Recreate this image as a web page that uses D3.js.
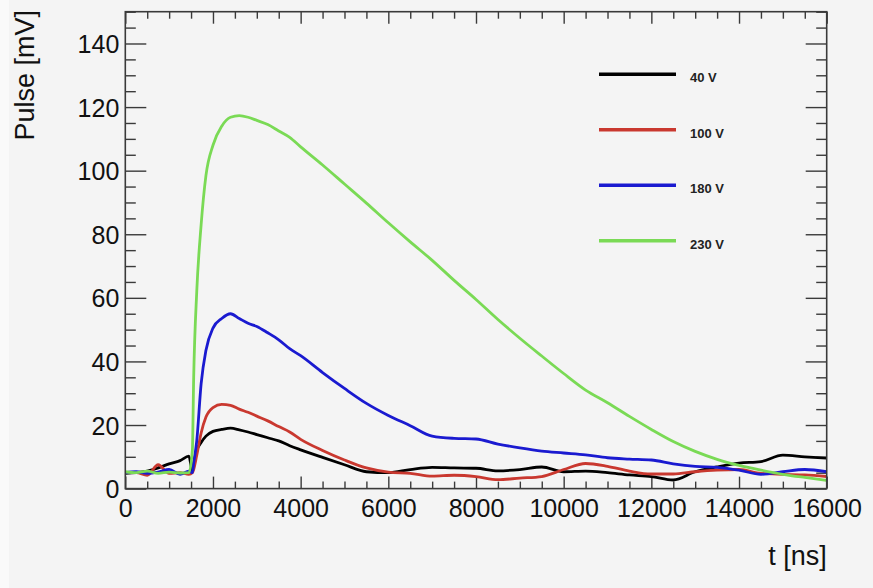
<!DOCTYPE html>
<html>
<head>
<meta charset="utf-8">
<script src="https://cdn.jsdelivr.net/npm/d3@7"></script>
<style>
  html, body { margin: 0; padding: 0; background: #f4f4f4; }
  svg { display: block; font-family: "Liberation Sans", Arial, Helvetica, sans-serif; }
</style>
</head>
<body>
<svg id="chart" width="873" height="588"></svg>
<script>
// sample times (ns) shared by every trace
const timeNs = [0, 250, 500, 750, 1000, 1250, 1450, 1530, 1560, 1630, 1730, 1840, 2000, 2200, 2400, 2600, 2800, 3000,
  3250, 3500, 3750, 4000, 4500, 5000, 5500, 6000, 6500, 7000, 7500, 8000, 8500, 9000, 9500, 10000,
  10500, 11000, 11500, 12000, 12500, 13000, 13500, 14000, 14500, 15000, 15500, 16000];

// pulse height (mV)
const pulse40V = [4.8, 5.0, 5.5, 6.5, 7.8, 8.8, 10.2, 5.5, 8.0, 12.0, 14.5, 16.5, 18.0, 18.6, 19.0, 18.5, 17.8, 17.0,
  16.0, 15.0, 13.5, 12.2, 9.8, 7.5, 5.3, 5.0, 6.0, 6.7, 6.5, 6.4, 5.6, 6.0, 6.8, 5.3,
  5.5, 5.0, 4.3, 3.8, 2.7, 5.3, 6.8, 8.0, 8.5, 10.5, 10.0, 9.6];
const pulse100V = [5.0, 5.0, 4.2, 7.5, 4.8, 5.0, 4.5, 5.0, 6.0, 10.5, 17.5, 22.5, 25.5, 26.5, 26.2, 25.0, 24.0, 22.8,
  21.3, 19.5, 17.8, 15.5, 12.0, 9.0, 6.5, 5.2, 4.8, 3.9, 4.2, 3.8, 2.8, 3.3, 3.8, 6.0,
  7.9, 7.0, 5.5, 4.6, 4.6, 5.3, 5.8, 6.0, 4.8, 4.5, 4.3, 3.8];
const pulse180V = [5.0, 5.3, 4.8, 5.2, 6.0, 4.5, 5.5, 5.0, 8.0, 15.0, 33.0, 43.5, 50.5, 53.5, 55.0, 53.5, 52.0, 51.0,
  49.0, 46.8, 44.0, 41.8, 36.5, 31.5, 26.8, 23.0, 19.8, 16.5, 15.8, 15.6, 14.0, 12.8, 11.8, 11.2,
  10.6, 9.7, 9.3, 9.0, 7.8, 7.0, 6.7, 5.8, 4.5, 5.3, 6.0, 5.3];
const pulse230V = [5.3, 5.0, 5.5, 4.8, 5.2, 4.9, 5.0, 12.0, 35.0, 62.0, 83.0, 98.5, 108.0, 114.0, 116.8, 117.3, 116.8, 115.8,
  114.5, 112.5, 110.5, 107.5, 101.8, 95.8, 89.8, 83.6, 77.6, 71.8, 65.5, 59.5, 53.2, 47.3, 41.7, 36.2,
  31.0, 27.0, 22.7, 18.6, 14.8, 11.7, 9.2, 7.3, 5.8, 4.5, 3.5, 2.6];

const seriesLabels = ["40 V", "100 V", "180 V", "230 V"];
const seriesValues = [pulse40V, pulse100V, pulse180V, pulse230V];
const seriesColors = ["#000000", "#c9382f", "#1a1ad0", "#7ada55"];

const xMajorTicks = [0, 2000, 4000, 6000, 8000, 10000, 12000, 14000, 16000];
const yMajorTicks = [0, 20, 40, 60, 80, 100, 120, 140];

const frame = { left: 125.3, right: 826.7, top: 11.7, bottom: 488.6 };

const svg = d3.select("#chart");

svg.append("rect").attr("x", 0).attr("y", 0).attr("width", 9).attr("height", 588).attr("fill", "#fafafa");

const x = d3.scaleLinear().domain([0, 16000]).range([frame.left, frame.right]);
const y = d3.scaleLinear().domain([0, 150]).range([frame.bottom, frame.top]);

const xMinor = d3.range(0, 16001, 500).filter(d => d % 2000 !== 0);
const yMinor = d3.range(0, 151, 5).filter(d => d % 20 !== 0);

const axisColor = "#3a3a3a";

function styleAxis(g) {
  g.select(".domain").remove();
  g.selectAll(".tick line").attr("stroke", axisColor).attr("stroke-width", 1.4);
}

// bottom axis with labels
svg.append("g")
  .attr("transform", `translate(0,${frame.bottom})`)
  .call(d3.axisBottom(x).tickValues(xMajorTicks).tickSize(-12).tickPadding(0).tickFormat(d => d))
  .call(styleAxis)
  .call(g => g.selectAll(".tick text")
    .attr("y", 28).attr("dy", null)
    .attr("fill", "#111").attr("font-size", 25));
svg.append("g")
  .attr("transform", `translate(0,${frame.bottom})`)
  .call(d3.axisBottom(x).tickValues(xMinor).tickSize(-7).tickFormat(""))
  .call(styleAxis);

// top axis
svg.append("g")
  .attr("transform", `translate(0,${frame.top})`)
  .call(d3.axisTop(x).tickValues(xMajorTicks).tickSize(-12).tickFormat(""))
  .call(styleAxis);
svg.append("g")
  .attr("transform", `translate(0,${frame.top})`)
  .call(d3.axisTop(x).tickValues(xMinor).tickSize(-7).tickFormat(""))
  .call(styleAxis);

// left axis with labels
svg.append("g")
  .attr("transform", `translate(${frame.left},0)`)
  .call(d3.axisLeft(y).tickValues(yMajorTicks).tickSize(-21).tickFormat(d => d))
  .call(styleAxis)
  .call(g => g.selectAll(".tick text")
    .attr("x", -6).attr("dy", "0.36em")
    .attr("fill", "#111").attr("font-size", 25));
svg.append("g")
  .attr("transform", `translate(${frame.left},0)`)
  .call(d3.axisLeft(y).tickValues(yMinor).tickSize(-10.5).tickFormat(""))
  .call(styleAxis);

// right axis
svg.append("g")
  .attr("transform", `translate(${frame.right},0)`)
  .call(d3.axisRight(y).tickValues(yMajorTicks).tickSize(-21).tickFormat(""))
  .call(styleAxis);
svg.append("g")
  .attr("transform", `translate(${frame.right},0)`)
  .call(d3.axisRight(y).tickValues(yMinor).tickSize(-10.5).tickFormat(""))
  .call(styleAxis);

// traces
const line = d3.line()
  .x((d, i) => x(timeNs[i]))
  .y(d => y(d))
  .curve(d3.curveMonotoneX);

const plot = svg.append("g");
seriesValues.forEach((vals, i) => {
  plot.append("path")
    .datum(vals)
    .attr("fill", "none")
    .attr("stroke", seriesColors[i])
    .attr("stroke-width", 2.8)
    .attr("stroke-linejoin", "round")
    .attr("d", line);
});

// frame
svg.append("rect")
  .attr("x", frame.left).attr("y", frame.top)
  .attr("width", frame.right - frame.left).attr("height", frame.bottom - frame.top)
  .attr("fill", "none").attr("stroke", axisColor).attr("stroke-width", 1.6);

// axis titles
svg.append("text")
  .attr("transform", `translate(34,10) rotate(-90)`)
  .attr("text-anchor", "end")
  .attr("font-size", 27)
  .attr("fill", "#111")
  .text("Pulse [mV]");

svg.append("text")
  .attr("x", frame.right).attr("y", 565)
  .attr("text-anchor", "end")
  .attr("font-size", 27)
  .attr("fill", "#111")
  .text("t [ns]");

// legend
const legend = svg.append("g");
seriesLabels.forEach((label, i) => {
  const ly = 74.3 + i * 55.5;
  legend.append("line")
    .attr("x1", 599).attr("x2", 676)
    .attr("y1", ly).attr("y2", ly)
    .attr("stroke", seriesColors[i])
    .attr("stroke-width", 3.6);
  legend.append("text")
    .attr("x", 690).attr("y", ly + 8)
    .attr("font-size", 13)
    .attr("font-weight", "bold")
    .attr("fill", "#222")
    .text(label);
});
</script>
</body>
</html>
